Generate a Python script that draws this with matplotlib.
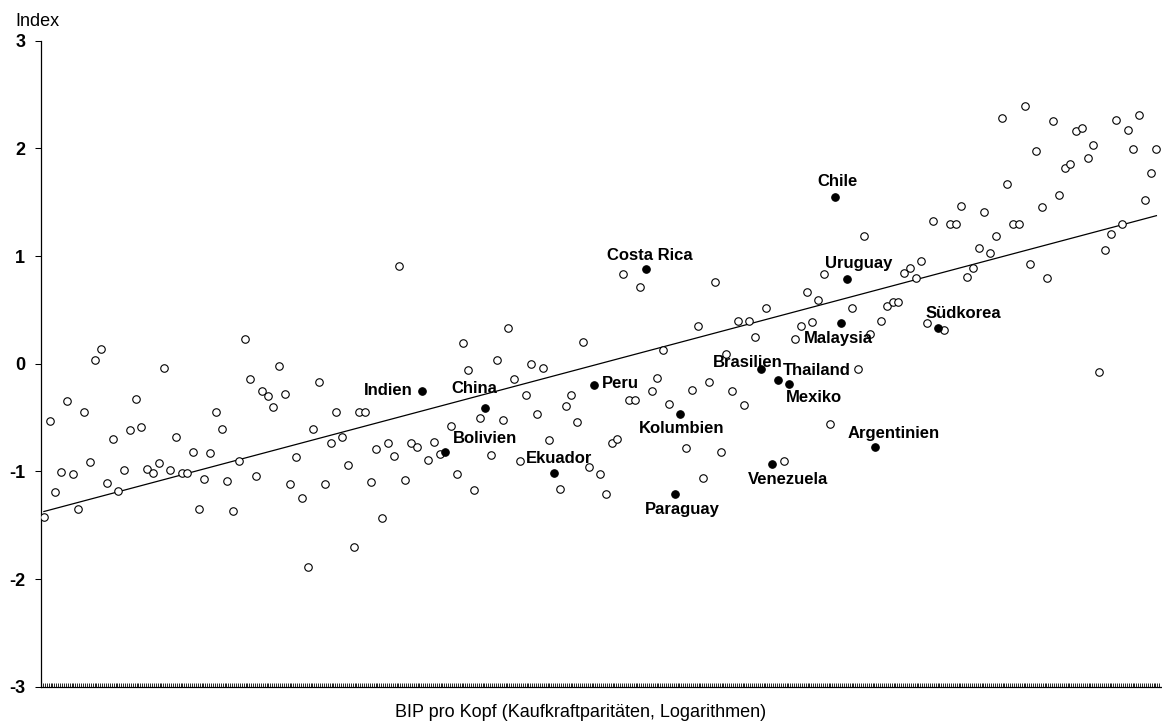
import numpy as np
import matplotlib
matplotlib.use("Agg")
import matplotlib.pyplot as plt

plt.rcParams['font.family'] = ['Liberation Sans', 'DejaVu Sans']

# Index values of countries, sorted by GDP per capita (rank order on x axis)
index_values = [
    -1.42, -0.534, -1.193, -1.005, -0.345, -1.02, -1.348, -0.447, -0.915, 0.038,
    0.14, -1.107, -0.695, -1.178, -0.986, -0.612, -0.324, -0.584, -0.974, -1.011,
    -0.921, -0.039, -0.986, -0.683, -1.017, -1.017, -0.816, -1.348, -1.07, -0.825,
    -0.445, -0.605, -1.091, -1.367, -0.903, 0.233, -0.144, -1.045, -0.25, -0.299,
    -0.401, -0.02, -0.278, -1.119, -0.865, -1.252, -1.887, -0.602, -0.169, -1.119,
    -0.732, -0.445, -0.68, -0.94, -1.707, -0.445, -0.445, -1.097, -0.794, -1.432,
    -0.732, -0.856, 0.908, -1.076, -0.732, -0.775, -0.252, -0.893, -0.723, -0.84,
    -0.819, -0.58, -1.026, 0.19, -0.058, -1.172, -0.5, -0.407, -0.847, 0.035,
    -0.525, 0.33, -0.141, -0.903, -0.29, -0.005, -0.463, -0.039, -0.708, -1.017,
    -1.162, -0.392, -0.293, -0.537, 0.205, -0.958, -0.2, -1.026, -1.212, -0.735,
    -0.704, 0.837, -0.339, -0.339, 0.713, 0.88, -0.253, -0.132, 0.125, -0.376,
    -1.212, -0.469, -0.779, -0.243, 0.348, -1.057, -0.169, 0.757, -0.822, 0.088,
    -0.253, 0.397, -0.383, 0.397, 0.252, -0.051, 0.521, -0.933, -0.15, -0.903,
    -0.19, 0.23, 0.354, 0.664, 0.388, 0.595, 0.837, -0.559, 1.549, 0.376,
    0.79, 0.521, -0.045, 1.19, 0.279, -0.77, 0.397, 0.534, 0.571, 0.577,
    0.84, 0.887, 0.8, 0.955, 0.376, 1.329, 0.335, 0.317, 1.295, 1.295,
    1.462, 0.806, 0.887, 1.078, 1.412, 1.026, 1.187, 2.282, 1.672, 1.295,
    1.295, 2.396, 0.924, 1.976, 1.453, 0.8, 2.251, 1.57, 1.821, 1.855,
    2.159, 2.189, 1.914, 2.029, -0.076, 1.059, 1.205, 2.261, 1.295, 2.174,
    1.997, 2.307, 1.521, 1.774, 1.997,
]

# Highlighted countries: name -> rank position
highlight_names = ["Indien", "Bolivien", "China", "Ekuador", "Peru", "Costa Rica",
                   "Paraguay", "Kolumbien", "Brasilien", "Venezuela", "Thailand",
                   "Mexiko", "Chile", "Malaysia", "Uruguay", "Argentinien", "Südkorea"]
highlight_ranks = [66, 70, 77, 89, 96, 105, 110, 111, 125, 127, 128, 130, 138, 139,
                   140, 145, 156]

# Fitted trend line (value at first and last rank)
trend_first = -1.373
trend_last = 1.375

y_ticks = [-3, -2, -1, 0, 1, 2, 3]
y_label = "Index"
x_label = "BIP pro Kopf (Kaufkraftparitäten, Logarithmen)"

# Label layout: offsets in pixels (dx, dy up) and horizontal alignment
label_layout = {
    "Costa Rica": (3.3, 9, 'center'),
    "Chile": (1.8, 11, 'center'),
    "Uruguay": (12.3, 10.3, 'center'),
    "Malaysia": (-2.5, -20.1, 'center'),
    "Brasilien": (-12.7, 2.6, 'center'),
    "Thailand": (38.9, 5, 'center'),
    "Mexiko": (25, -18.1, 'center'),
    "Peru": (25.5, -3.1, 'center'),
    "Kolumbien": (1, -19.1, 'center'),
    "Argentinien": (18.5, 8.3, 'center'),
    "Venezuela": (15.5, -20.1, 'center'),
    "Paraguay": (7.7, -20, 'center'),
    "Ekuador": (5, 9.9, 'center'),
    "Bolivien": (39.3, 9.3, 'center'),
    "China": (-11.2, 14.3, 'center'),
    "Indien": (-34.3, -4, 'center'),
    "Südkorea": (24.5, 10, 'center'),
}

W, H = 1162, 724
fig = plt.figure(figsize=(W / 100, H / 100), dpi=100)
ax = fig.add_axes([41 / W, (H - 686.7) / H, (1161 - 41) / W, (686.7 - 40.7) / H])

y = np.array(index_values)
x = np.arange(len(y))
mask = np.zeros(len(y), dtype=bool)
mask[highlight_ranks] = True

# trend line
ax.plot([x[0], x[-1]], [trend_first, trend_last], color='black', lw=0.9, zorder=2)

ms = 5.4
ax.plot(x[~mask], y[~mask], linestyle='none', marker='o', ms=ms, mfc='white',
        mec='black', mew=0.8, zorder=3)
ax.plot(x[mask], y[mask], linestyle='none', marker='o', ms=ms, mfc='black',
        mec='black', mew=0.8, zorder=4)

for name, r in zip(highlight_names, highlight_ranks):
    dx, dy, ha = label_layout[name]
    ax.annotate(name, (x[r], y[r]), xytext=(dx, dy), textcoords='offset pixels',
                ha=ha, va='baseline', fontsize=12, fontweight='bold', zorder=5)

ax.set_xlim(-0.5, 194.8)
ax.set_ylim(-3, 3)
ax.set_yticks(y_ticks)
ax.set_yticklabels([str(t) for t in y_ticks], fontsize=13, fontweight='bold')
ax.tick_params(axis='y', direction='out', length=4.3, width=0.75, pad=7)
ax.set_xticks(np.arange(-0.5, 194.81, 1 / 3))
ax.tick_params(axis='x', direction='in', length=2.9, width=0.6, labelbottom=False)

for s in ['top', 'right']:
    ax.spines[s].set_visible(False)
for s in ['left', 'bottom']:
    ax.spines[s].set_linewidth(0.9)
    ax.spines[s].set_color('black')

fig.text(15.7 / W, 1 - 26 / H, y_label, ha='left', va='baseline', fontsize=13)
fig.text(581 / W, (H - 716.7) / H, x_label, ha='center', va='baseline', fontsize=13)

fig.savefig("out.png", dpi=100, facecolor='white')
